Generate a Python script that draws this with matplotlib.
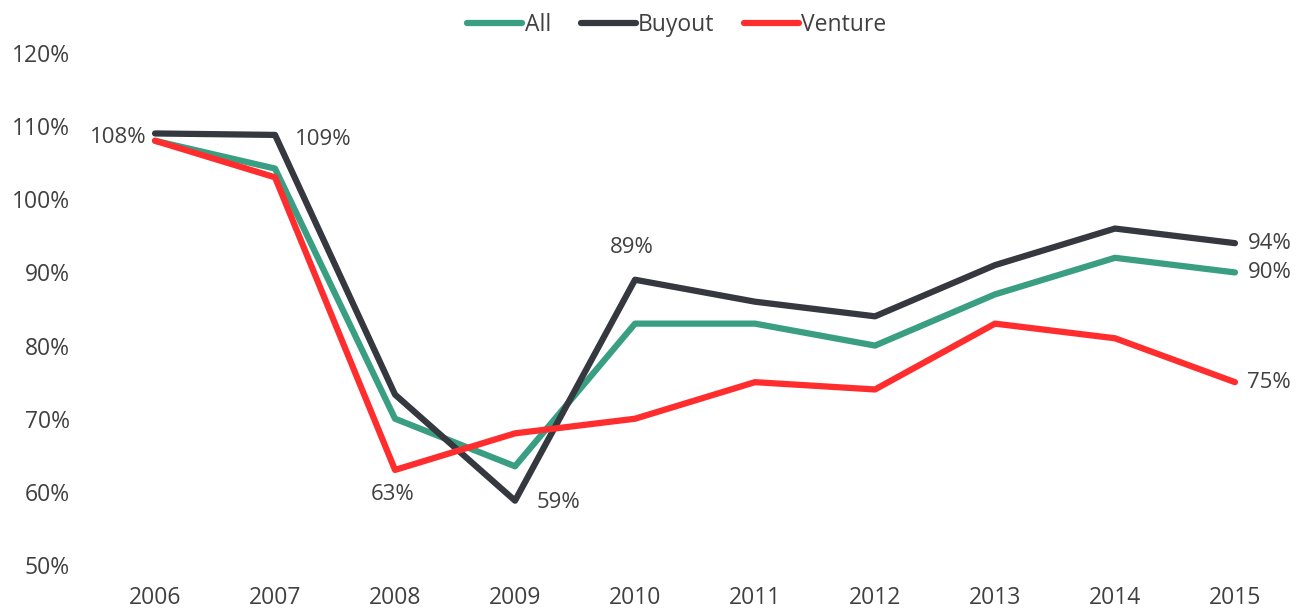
import matplotlib
matplotlib.use("Agg")
import matplotlib.pyplot as plt

years = ["2006", "2007", "2008", "2009", "2010", "2011", "2012", "2013", "2014", "2015"]
all_vals = [108, 104.2, 70, 63.5, 83, 83, 80, 87, 92, 90]
buyout = [109, 108.8, 73.3, 58.8, 89, 86, 84, 91, 96, 94]
venture = [108, 103, 63, 68, 70, 75, 74, 83, 81, 75]
yticks = [50, 60, 70, 80, 90, 100, 110, 120]

plt.rcParams['font.family'] = ['Open Sans', 'DejaVu Sans']
txt = '#404040'

fig = plt.figure(figsize=(13.02, 6.09), dpi=100)
ax = fig.add_axes([0.073, 0.0722, 0.9216, 0.8408])
x = list(range(len(years)))
ax.plot(x, all_vals, color='#3A9E82', lw=4.5, label='All', solid_capstyle='round')
ax.plot(x, buyout, color='#35383F', lw=4.5, label='Buyout', solid_capstyle='round')
ax.plot(x, venture, color='#FF2D2D', lw=4.5, label='Venture', solid_capstyle='round')

ax.set_xlim(-0.5, 9.5)
ax.set_ylim(50, 120)
ax.set_xticks(x)
ax.set_xticklabels(years)
ax.set_yticks(yticks)
ax.set_yticklabels([f"{v}%" for v in yticks])
for s in ax.spines.values():
    s.set_visible(False)
ax.tick_params(length=0, labelsize=16.5, colors=txt)
ax.tick_params(axis='y', pad=18)
ax.tick_params(axis='x', pad=15)

fs = 16
ax.annotate("108%", (0, venture[0]), xytext=(-6, 2), textcoords='offset points', ha='right', va='center', fontsize=fs, color=txt)
ax.annotate("109%", (1, buyout[1]), xytext=(14, -3), textcoords='offset points', ha='left', va='center', fontsize=fs, color=txt)
ax.annotate("63%", (2, venture[2]), xytext=(-2, -18), textcoords='offset points', ha='center', va='center', fontsize=fs, color=txt)
ax.annotate("59%", (3, buyout[3]), xytext=(31, -1), textcoords='offset points', ha='center', va='center', fontsize=fs, color=txt)
ax.annotate("89%", (4, buyout[4]), xytext=(-2, 23), textcoords='offset points', ha='center', va='center', fontsize=fs, color=txt)
ax.annotate("94%", (9, buyout[9]), xytext=(9, 0), textcoords='offset points', ha='left', va='center', fontsize=fs, color=txt)
ax.annotate("90%", (9, all_vals[9]), xytext=(9, 0), textcoords='offset points', ha='left', va='center', fontsize=fs, color=txt)
ax.annotate("75%", (9, venture[9]), xytext=(9, 0), textcoords='offset points', ha='left', va='center', fontsize=fs, color=txt)

leg = fig.legend(loc='upper center', bbox_to_anchor=(0.52, 1.012), ncol=3, frameon=False,
                 fontsize=16.5, handlelength=2.4, handletextpad=0.1, columnspacing=1.3)
for t in leg.get_texts():
    t.set_color(txt)

fig.savefig("out.png", dpi=100)
